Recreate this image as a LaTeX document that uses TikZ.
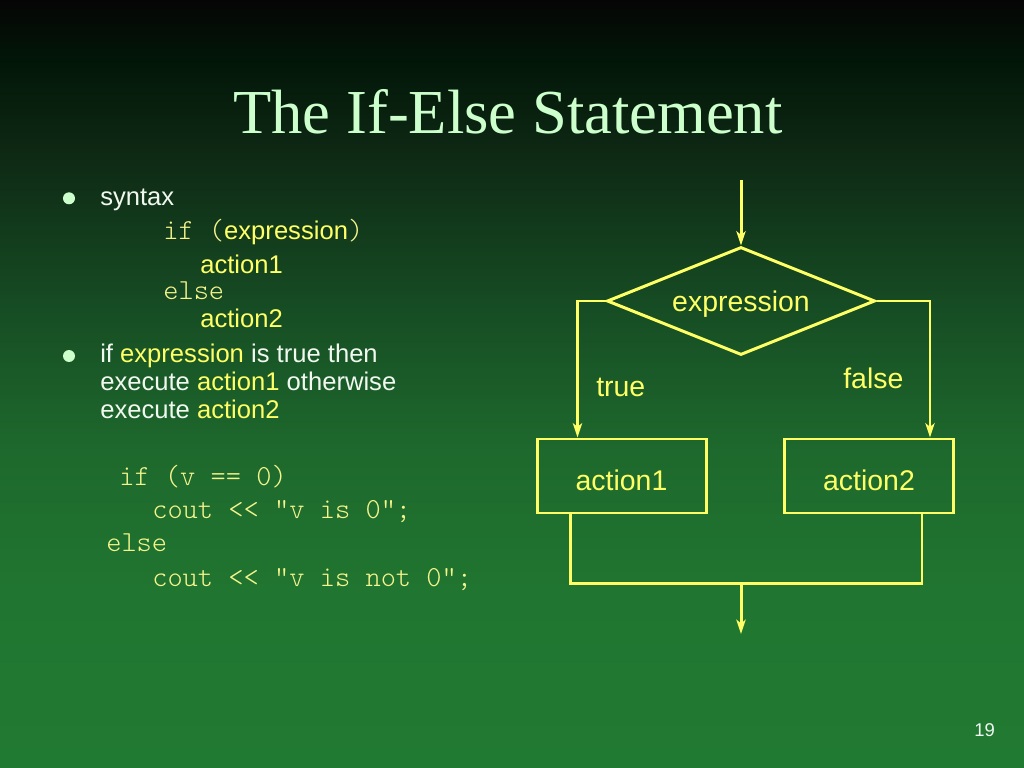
\documentclass[tikz,border=0pt]{standalone}
\usepackage{fontspec}
\setmainfont{Liberation Sans}
\setmonofont{Latin Modern Mono Light}
\newfontfamily\titlefont{Liberation Serif}
\usetikzlibrary{shapes.geometric,arrows.meta,calc}
\newcommand\pxl{0.703125pt}
\definecolor{ttl}{RGB}{204,255,204}
\definecolor{yel}{RGB}{255,255,102}
\definecolor{cod}{RGB}{245,245,140}
\definecolor{wht}{RGB}{240,248,240}
\definecolor{g0}{RGB}{5,5,5}
\definecolor{g1}{RGB}{2,22,8}
\definecolor{g2}{RGB}{14,40,20}
\definecolor{g3}{RGB}{22,75,35}
\definecolor{g4}{RGB}{30,105,45}
\definecolor{g5}{RGB}{32,118,48}
\definecolor{g6}{RGB}{33,122,50}
\tikzset{
  flow/.style={draw=yel, line width=2.1pt},
  arr/.style={-{Stealth[length=10pt,width=6.5pt,inset=2.5pt]}},
  actbox/.style={flow, rectangle, inner sep=0pt, minimum width=169*\pxl, minimum height=74*\pxl,
    text=yel, font=\fontsize{20pt}{24pt}\selectfont, text height=20pt, text depth=0pt},
  cond/.style={flow, diamond, aspect=2.5, inner sep=0pt, minimum width=268*\pxl, minimum height=108*\pxl,
    text=yel, font=\fontsize{20pt}{24pt}\selectfont, text height=15pt, text depth=0pt},
  lbl/.style={anchor=base west, inner sep=0pt, text=yel, font=\fontsize{20pt}{24pt}\selectfont},
  body/.style={anchor=base west, inner sep=0pt, text=wht, font=\fontsize{18pt}{21pt}\selectfont},
  code/.style={anchor=base west, inner sep=0pt, text=cod, font=\fontsize{20.4pt}{24pt}\selectfont\ttfamily},
  dotb/.style={circle, fill=ttl, inner sep=0pt, minimum size=12*\pxl},
}
\begin{document}
\begin{tikzpicture}[x=0.703125pt,y=-0.703125pt]
\useasboundingbox (0,0) rectangle (1024,768);
% background
\shade[top color=g0, bottom color=g1] (0,0) rectangle (1024,61);
\shade[top color=g1, bottom color=g2] (0,60) rectangle (1024,151);
\shade[top color=g2, bottom color=g3] (0,150) rectangle (1024,301);
\shade[top color=g3, bottom color=g4] (0,300) rectangle (1024,451);
\shade[top color=g4, bottom color=g5] (0,450) rectangle (1024,601);
\shade[top color=g5, bottom color=g6] (0,600) rectangle (1024,768);
% title
\node[anchor=base, inner sep=0pt, text=ttl, font=\fontsize{44pt}{50pt}\selectfont\titlefont] (title) at (508,133.3) {The If-Else Statement};
% bullets
\node[dotb] (b1) at (69,198.3) {};
\node[body] (t1) at (100,206) {syntax};
\node[body] (t2) at (163,240) {{\color{cod}\fontsize{20.4pt}{24pt}\selectfont\ttfamily if (}\textcolor{yel}{expression}{\color{cod}\fontsize{20.4pt}{24pt}\selectfont\ttfamily )}};
\node[body, text=yel] (t3) at (200,274) {action1};
\node[code] (t4) at (163,300) {else};
\node[body, text=yel] (t5) at (200,328) {action2};
\node[dotb] (b2) at (69,356) {};
\node[body] (t6) at (100,362.7) {if \textcolor{yel}{expression} is true then};
\node[body] (t7) at (100,390.7) {execute \textcolor{yel}{action1} otherwise};
\node[body] (t8) at (100,418.3) {execute \textcolor{yel}{action2}};
% code
\node[code] (c1) at (119,485) {if (v == 0)};
\node[code] (c2) at (152,518) {cout << "v is 0";};
\node[code] (c3) at (106,551.7) {else};
\node[code] (c4) at (152,586.7) {cout << "v is not 0";};
% page number
\node[anchor=base west, inner sep=0pt, text=wht, font=\fontsize{13pt}{15pt}\selectfont] (pn) at (974,736.7) {19};
% flowchart
\coordinate (in) at (741,180);
\node[cond] (cond) at (741,301) {expression};
\node[actbox] (a1) at (621.5,476) {action1};
\node[actbox] (a2) at (869,476) {action2};
\node[lbl] (lt) at (596,396.7) {true};
\node[lbl] (lf) at (843,388.3) {false};
\coordinate (j) at (741,583.5);
\coordinate (out) at (741,634);
\draw[flow,arr] (in) -- (cond.north);
\draw[flow,arr] (cond.west) -| ($(a1.north west)+(42,0)$);
\draw[flow,arr] (cond.east) -| ($(a2.north east)+(-25,0)$);
\draw[flow] ($(a1.south west)+(35,0)$) -- ++(0,69) -| ($(a2.south east)+(-33,0)$);
\draw[flow,arr] (j) -- (out);
\end{tikzpicture}
\end{document}
